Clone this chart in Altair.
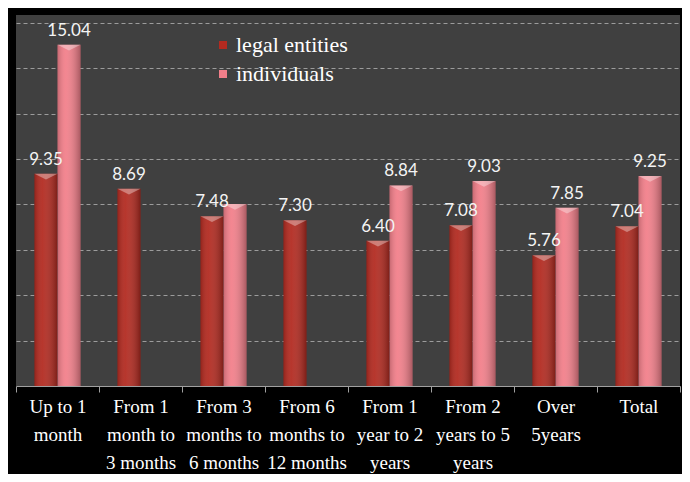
import altair as alt
import pandas as pd

categories = [
    "Up to 1|month",
    "From 1|month to|3 months",
    "From 3|months to|6 months",
    "From 6|months to|12 months",
    "From 1|year to 2|years",
    "From 2|years to 5|years",
    "Over|5years",
    "Total",
]
legal = [9.35, 8.69, 7.48, 7.30, 6.40, 7.08, 5.76, 7.04]
individuals = [15.04, None, 8.02, None, 8.84, 9.03, 7.85, 9.25]
legal_labels = ["9.35", "8.69", "7.48", "7.30", "6.40", "7.08", "5.76", "7.04"]
individual_labels = ["15.04", "", "", "", "8.84", "9.03", "7.85", "9.25"]
series = ["legal entities", "individuals"]
colors = ["#b22a20", "#f27f8a"]

rows = []
for c, v, l in zip(categories, legal, legal_labels):
    rows.append({"cat": c, "series": series[0], "value": v, "label": l})
for c, v, l in zip(categories, individuals, individual_labels):
    if v is not None:
        rows.append({"cat": c, "series": series[1], "value": v, "label": l})
df = pd.DataFrame(rows)

x = alt.X("cat:N", sort=categories, title=None,
          scale=alt.Scale(paddingInner=0, paddingOuter=0),
          axis=alt.Axis(labelExpr="split(datum.label, '|')", labelAngle=0,
                        labelFont="Liberation Serif", labelFontSize=19,
                        labelLineHeight=28, labelColor="#ffffff",
                        labelPadding=5, tickBand="extent", tickSize=6,
                        tickColor="#a0a0a0", domainColor="#a0a0a0",
                        grid=False))
xo = alt.XOffset("series:N", sort=series,
                 scale=alt.Scale(paddingInner=0, paddingOuter=0.8))
y = alt.Y("value:Q", title=None,
          scale=alt.Scale(domain=[0, 16.35], nice=False, zero=True),
          axis=alt.Axis(values=[2, 4, 6, 8, 10, 12, 14, 16], labels=False,
                        ticks=False, domain=False, grid=True,
                        gridColor="#9c9c9c", gridDash=[4, 3], gridWidth=1))

base = alt.Chart(df)

bars = base.mark_bar().encode(
    x=x, xOffset=xo, y=y,
    color=alt.Color("series:N", sort=series,
                    scale=alt.Scale(domain=series, range=colors),
                    legend=alt.Legend(title=None, orient="none", legendX=196,
                                      legendY=19, symbolType="square",
                                      symbolSize=64, symbolStrokeWidth=0,
                                      labelFont="Liberation Serif",
                                      labelFontSize=22, labelColor="#ffffff",
                                      labelOffset=2, rowPadding=7,
                                      padding=0)),
)

shade = base.mark_bar(
    fill=alt.LinearGradient(
        gradient="linear", x1=0, x2=1, y1=0, y2=0,
        stops=[
            alt.GradientStop(offset=0, color="rgba(0,0,0,0.18)"),
            alt.GradientStop(offset=0.35, color="rgba(255,255,255,0.06)"),
            alt.GradientStop(offset=1, color="rgba(0,0,0,0.30)"),
        ],
    )
).encode(x=x, xOffset=xo, y=y)

bevel = base.mark_point(
    shape="M-1,0L1,0L0,0.5Z", filled=True, size=529, opacity=0.35,
    color="#ffffff", strokeWidth=0
).encode(x=x, xOffset=xo, y=y)

labels = base.mark_text(
    dy=-5, baseline="bottom", font="Lato", fontSize=17,
    color="#f4f4f4"
).encode(x=x, xOffset=xo, y=y, text="label:N")

chart = alt.layer(bars, shade, bevel, labels).properties(
    width=664, height=371,
    background="#000000",
    padding={"left": 8, "top": 7, "right": 2, "bottom": 88},
    autosize=alt.AutoSizeParams(type="none"),
).configure_view(fill="#404040", stroke=None)

chart.save("out.html", embed_options={"renderer": "svg", "actions": False})
